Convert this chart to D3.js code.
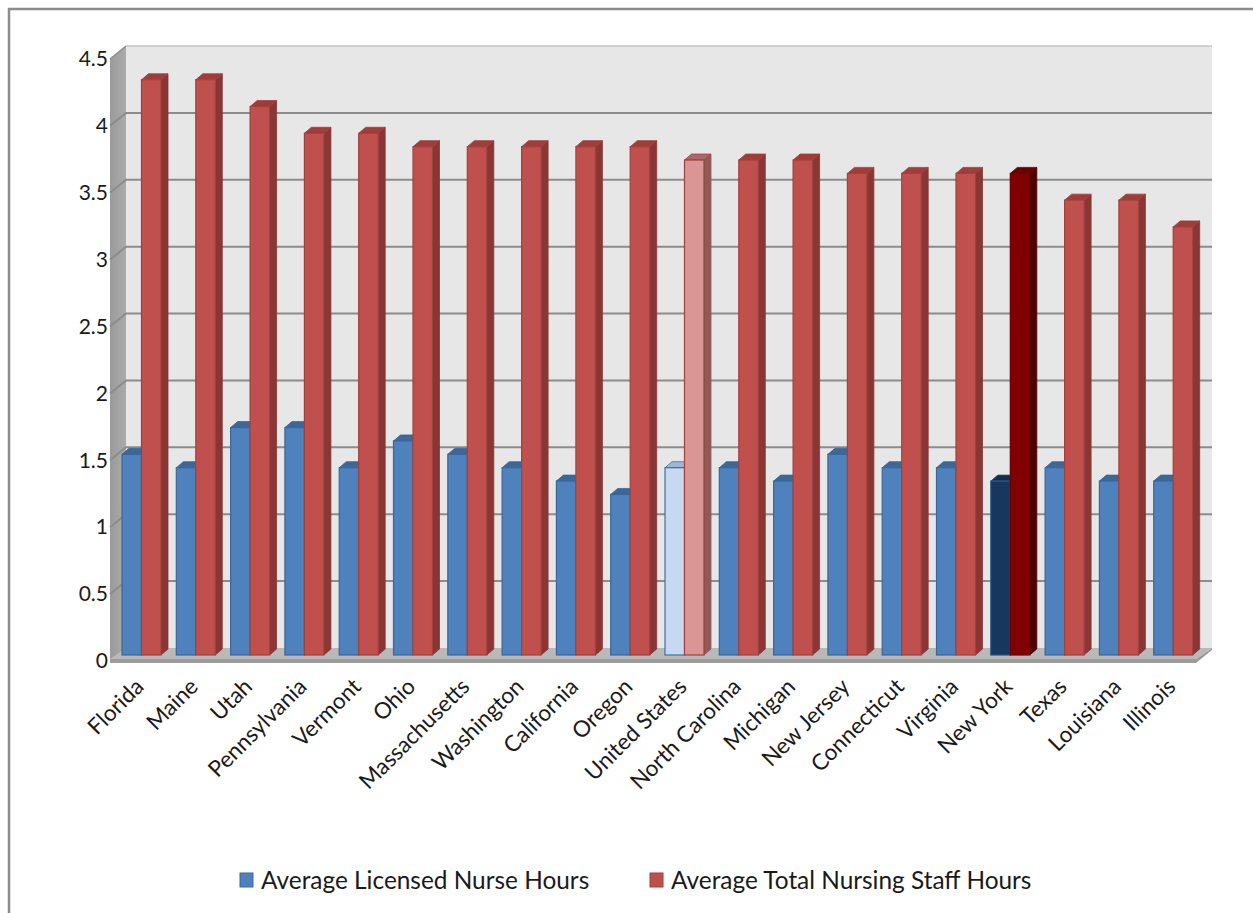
<!DOCTYPE html>
<html>
<head>
<meta charset="utf-8">
<script src="https://cdn.jsdelivr.net/npm/d3@7"></script>
<style>
  html, body { margin: 0; padding: 0; background: #ffffff; }
  svg { display: block; }
  text { font-family: Lato, "Open Sans", sans-serif; fill: #1a1a1a; }
</style>
</head>
<body>
<svg id="chart" width="1253" height="913"></svg>
<script>
// Nursing hours per resident day, by state
const states = ["Florida", "Maine", "Utah", "Pennsylvania", "Vermont", "Ohio",
  "Massachusetts", "Washington", "California", "Oregon", "United States",
  "North Carolina", "Michigan", "New Jersey", "Connecticut", "Virginia",
  "New York", "Texas", "Louisiana", "Illinois"];
const licensedHours = [1.5, 1.4, 1.7, 1.7, 1.4, 1.6, 1.5, 1.4, 1.3, 1.2, 1.4,
  1.4, 1.3, 1.5, 1.4, 1.4, 1.3, 1.4, 1.3, 1.3];
const totalHours = [4.3, 4.3, 4.1, 3.9, 3.9, 3.8, 3.8, 3.8, 3.8, 3.8, 3.7,
  3.7, 3.7, 3.6, 3.6, 3.6, 3.6, 3.4, 3.4, 3.2];
const yTicks = [0, 0.5, 1, 1.5, 2, 2.5, 3, 3.5, 4, 4.5];
const seriesNames = ["Average Licensed Nurse Hours", "Average Total Nursing Staff Hours"];

// colour sets: regular, national average, New York
const palette = {
  blue:  { front: "#4f81bd", side: "#385d8a", top: "#3c6797", stroke: "#3a679c" },
  red:   { front: "#c0504d", side: "#8a3634", top: "#9e3d3a", stroke: "#a2403d" },
  blueUS:{ front: "#c6d9f1", side: "#8ea9cc", top: "#9fb7d6", stroke: "#3f6fa6" },
  redUS: { front: "#d99694", side: "#8e5b5a", top: "#a86a68", stroke: "#a2403d" },
  blueNY:{ front: "#17375e", side: "#0f243e", top: "#132d4e", stroke: "#2c5283" },
  redNY: { front: "#800000", side: "#4d0000", top: "#660000", stroke: "#6d0000" }
};
function colours(i, series) {
  if (states[i] === "United States") return series === 0 ? palette.blueUS : palette.redUS;
  if (states[i] === "New York") return series === 0 ? palette.blueNY : palette.redNY;
  return series === 0 ? palette.blue : palette.red;
}

const svg = d3.select("#chart");

// frame around the chart
svg.append("path")
  .attr("d", "M9,913 L9,9 L1253,9")
  .attr("fill", "none").attr("stroke", "#8c8c8c").attr("stroke-width", 2.5);

// value scale for the bar fronts; the back wall sits up and to the right
const y = d3.scaleLinear().domain([0, 4.5]).range([655, 53]);
const x = d3.scaleBand().domain(states).range([110, 1196]).padding(0);
const wallDx = 16, wallDy = -13;      // full depth of the box
const barBack = -7;                   // bar front plane relative to back wall
const barDx = 7, barDy = -6;          // depth of each bar
const xLeft = 110, xRight = 1196;

const g = svg.append("g");

// back wall
const topY = y(4.5) + barBack;
const floorBackY = y(0) + barBack;
g.append("rect")
  .attr("x", xLeft + wallDx).attr("y", topY)
  .attr("width", xRight - xLeft).attr("height", floorBackY - topY)
  .attr("fill", "#e7e7e7");
g.append("line")
  .attr("x1", xLeft + wallDx).attr("x2", xRight + wallDx)
  .attr("y1", topY).attr("y2", topY)
  .attr("stroke", "#c4c4c4").attr("stroke-width", 1.5);

// side wall
const sideGrad = svg.append("defs").append("linearGradient")
  .attr("id", "sideWall").attr("x1", 0).attr("x2", 1).attr("y1", 0).attr("y2", 0);
sideGrad.append("stop").attr("offset", "0%").attr("stop-color", "#9a9a9a");
sideGrad.append("stop").attr("offset", "100%").attr("stop-color", "#ababab");
g.append("path")
  .attr("d", `M${xLeft},${topY - wallDy} L${xLeft + wallDx},${topY} L${xLeft + wallDx},${floorBackY} L${xLeft},${floorBackY - wallDy} Z`)
  .attr("fill", "url(#sideWall)");

// gridlines on both walls
yTicks.filter(v => v > 0 && v < 4.5).forEach(v => {
  const gy = y(v) + barBack;
  g.append("path")
    .attr("d", `M${xLeft},${gy - wallDy} L${xLeft + wallDx},${gy} L${xRight + wallDx},${gy}`)
    .attr("fill", "none").attr("stroke", "#8c8c8c").attr("stroke-width", 2);
});
g.append("line")
  .attr("x1", xLeft).attr("x2", xLeft + wallDx)
  .attr("y1", topY - wallDy).attr("y2", topY)
  .attr("stroke", "#8c8c8c").attr("stroke-width", 1.5);

// floor slab
g.append("path")
  .attr("d", `M${xLeft},${floorBackY - wallDy - 2} L${xLeft + wallDx},${floorBackY} L${xRight + wallDx},${floorBackY} L${xRight},${floorBackY - wallDy - 2} Z`)
  .attr("fill", "#b9b9b9");
g.append("path")
  .attr("d", `M${xLeft},${floorBackY - wallDy - 2} L${xRight},${floorBackY - wallDy - 2} L${xRight + wallDx},${floorBackY} L${xRight + wallDx},${floorBackY + 2} L${xRight},${floorBackY - wallDy + 2} L${xLeft},${floorBackY - wallDy + 2} Z`)
  .attr("fill", "#9c9c9c");

// 3-D columns
const barW = 19.5, barOffset = 12;
function drawBar(i, series, value) {
  const c = colours(i, series);
  const x0 = x(states[i]) + barOffset + series * barW;
  const x1 = x0 + barW;
  const yt = y(value), yb = y(0);
  const bar = g.append("g");
  bar.append("path")   // right side
    .attr("d", `M${x1},${yt} L${x1 + barDx},${yt + barDy} L${x1 + barDx},${yb + barDy} L${x1},${yb} Z`)
    .attr("fill", c.side).attr("stroke", c.side).attr("stroke-width", 0.8);
  bar.append("path")   // top
    .attr("d", `M${x0},${yt} L${x0 + barDx},${yt + barDy} L${x1 + barDx},${yt + barDy} L${x1},${yt} Z`)
    .attr("fill", c.top).attr("stroke", c.stroke).attr("stroke-width", 0.8);
  bar.append("rect")   // front
    .attr("x", x0).attr("y", yt).attr("width", barW).attr("height", yb - yt)
    .attr("fill", c.front).attr("stroke", c.stroke).attr("stroke-width", 1.2);
}
states.forEach((s, i) => {
  drawBar(i, 0, licensedHours[i]);
  drawBar(i, 1, totalHours[i]);
});

// value axis labels
const yAxis = d3.axisLeft(d3.scaleLinear().domain(y.domain()).range(y.range().map(r => r + barBack - wallDy)))
  .tickValues(yTicks).tickSize(0).tickPadding(0).tickFormat(d3.format("~g"));
svg.append("g")
  .attr("transform", `translate(${xLeft - 2},0)`)
  .call(yAxis)
  .call(a => a.select(".domain").remove())
  .call(a => a.selectAll("text")
    .style("font-family", "Lato, 'Open Sans', sans-serif")
    .style("font-size", "21px").attr("fill", "#1a1a1a"));

// category labels, slanted
const xAxis = d3.axisBottom(x).tickSize(0).tickPadding(0);
svg.append("g")
  .attr("transform", `translate(0,${y(0) + 33})`)
  .call(xAxis)
  .call(a => a.select(".domain").remove())
  .call(a => a.selectAll("text")
    .style("font-family", "Lato, 'Open Sans', sans-serif")
    .style("font-size", "22.5px").attr("fill", "#1a1a1a")
    .attr("text-anchor", "end").attr("dy", "0")
    .attr("transform", "translate(8,0) rotate(-45)"));

// legend
const legend = svg.append("g").attr("transform", "translate(240,880)");
const legendX = [0, 410];
const legendCol = [palette.blue, palette.red];
seriesNames.forEach((name, k) => {
  const item = legend.append("g").attr("transform", `translate(${legendX[k]},0)`);
  item.append("rect").attr("x", 0).attr("y", -7).attr("width", 13).attr("height", 14)
    .attr("fill", legendCol[k].front).attr("stroke", legendCol[k].stroke).attr("stroke-width", 1);
  item.append("text").attr("x", 21).attr("y", 0).attr("dy", "0.35em")
    .style("font-size", "24.4px").text(name);
});
</script>
</body>
</html>
